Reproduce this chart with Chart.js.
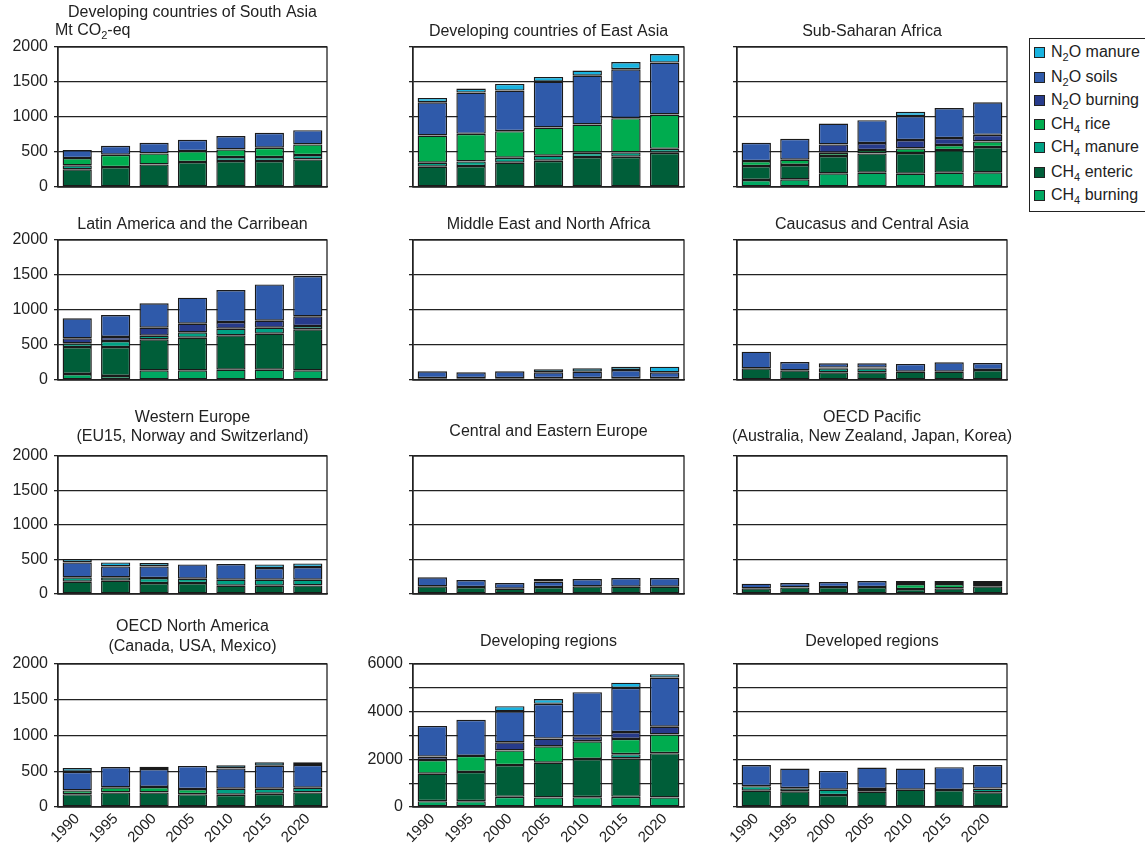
<!DOCTYPE html>
<html><head><meta charset="utf-8">
<script src="https://cdn.jsdelivr.net/npm/chart.js@4.4.1/dist/chart.umd.min.js"></script>
<style>
body{margin:0;background:#fff;width:1145px;height:844px;position:relative;overflow:hidden;font-family:"Liberation Sans",Arial,sans-serif;color:#222;}
canvas{position:absolute;}
#legend{position:absolute;left:1029px;top:38px;width:117px;height:174px;border:1px solid #222;box-sizing:border-box;background:#fff;}
.item{position:absolute;left:4px;height:20px;line-height:20px;font-size:16px;white-space:nowrap;display:flex;align-items:center;}
.sw{width:11px;height:11px;border:1px solid #222;box-sizing:border-box;margin-right:6px;flex:none;}
sub{font-size:11px;vertical-align:-4px;line-height:0;}
</style>
</head><body>
<div id="legend"></div>
<script>
// ---------- data ----------
const years = ['1990','1995','2000','2005','2010','2015','2020'];

const southAsia = {
  ch4Burning: [0,0,0,0,0,0,0],
  ch4Enteric: [252,285,323,356,371,371,394],
  ch4Manure:  [57,0,0,0,57,57,62],
  ch4Rice:    [104,176,157,157,109,133,152],
  n2oBurning: [0,0,0,0,0,0,0],
  n2oSoils:   [114,128,152,162,190,213,204],
  n2oManure:  [0,0,0,0,0,0,0]
};
const eastAsia = {
  ch4Burning: [0,0,0,0,0,0,0],
  ch4Enteric: [290,299,347,375,428,432,489],
  ch4Manure:  [57,67,71,72,61,62,57],
  ch4Rice:    [389,394,380,403,404,489,490],
  n2oBurning: [0,0,0,0,0,0,0],
  n2oSoils:   [475,589,580,656,698,699,741],
  n2oManure:  [62,57,95,66,72,104,123]
};
const subSaharanAfrica = {
  ch4Burning: [100,109,195,204,190,204,209],
  ch4Enteric: [199,205,247,276,295,323,361],
  ch4Manure:  [0,0,0,0,0,0,0],
  ch4Rice:    [71,76,47,47,66,72,81],
  n2oBurning: [0,0,119,100,119,100,95],
  n2oSoils:   [262,299,299,328,342,428,465],
  n2oManure:  [0,0,0,0,62,0,0]
};
const latinAmerica = {
  ch4Burning: [86,57,138,138,148,148,138],
  ch4Enteric: [385,414,443,467,490,514,586],
  ch4Manure:  [53,86,52,76,95,85,47],
  ch4Rice:    [0,0,0,0,0,0,0],
  n2oBurning: [71,57,114,123,95,100,138],
  n2oSoils:   [286,314,348,372,457,519,576],
  n2oManure:  [0,0,0,0,0,0,0]
};
const middleEast = {
  ch4Burning: [0,0,0,0,0,0,0],
  ch4Enteric: [25,25,25,25,25,25,25],
  ch4Manure:  [0,0,0,0,0,0,0],
  ch4Rice:    [0,0,0,0,0,0,0],
  n2oBurning: [0,0,0,0,0,0,0],
  n2oSoils:   [99,85,99,85,94,118,85],
  n2oManure:  [0,0,0,42,48,47,80]
};
const caucasus = {
  ch4Burning: [0,0,0,0,0,0,0],
  ch4Enteric: [167,138,110,110,119,119,143],
  ch4Manure:  [0,0,57,57,0,0,0],
  ch4Rice:    [0,0,0,0,0,0,0],
  n2oBurning: [0,0,10,10,0,0,0],
  n2oSoils:   [238,119,61,61,110,133,100],
  n2oManure:  [0,0,0,0,0,0,0]
};
const westernEurope = {
  ch4Burning: [0,0,0,0,0,0,0],
  ch4Enteric: [178,193,159,159,120,120,125],
  ch4Manure:  [63,48,72,63,87,87,82],
  ch4Rice:    [0,0,0,0,0,0,0],
  n2oBurning: [0,0,0,0,0,0,0],
  n2oSoils:   [217,159,169,207,227,169,183],
  n2oManure:  [48,58,48,0,0,53,53]
};
const easternEurope = {
  ch4Burning: [0,0,0,0,0,0,0],
  ch4Enteric: [111,101,77,101,111,106,106],
  ch4Manure:  [0,0,0,0,0,0,0],
  ch4Rice:    [0,0,0,0,0,0,0],
  n2oBurning: [0,0,0,0,0,0,0],
  n2oSoils:   [130,101,82,80,106,125,125],
  n2oManure:  [0,0,0,36,0,0,0]
};
const oecdPacific = {
  ch4Burning: [0,0,0,0,0,0,0],
  ch4Enteric: [82,96,101,101,72,82,111],
  ch4Manure:  [0,0,0,0,0,0,0],
  ch4Rice:    [0,0,0,0,73,63,34],
  n2oBurning: [0,0,0,0,0,0,0],
  n2oSoils:   [67,63,73,87,43,43,43],
  n2oManure:  [0,0,0,0,0,0,0]
};
const oecdNorthAmerica = {
  ch4Burning: [0,0,0,0,0,0,0],
  ch4Enteric: [180,204,204,180,171,185,204],
  ch4Manure:  [0,0,0,0,85,71,66],
  ch4Rice:    [52,71,76,71,0,0,0],
  n2oBurning: [0,0,0,0,0,0,0],
  n2oSoils:   [261,284,251,323,284,322,318],
  n2oManure:  [52,0,33,0,43,48,38]
};
const developingRegions = {
  ch4Burning: [243,243,429,400,414,429,400],
  ch4Enteric: [1157,1229,1329,1458,1601,1614,1858],
  ch4Manure:  [0,0,0,0,0,172,0],
  ch4Rice:    [572,671,614,686,743,643,786],
  n2oBurning: [143,0,343,328,214,286,328],
  n2oSoils:   [1285,1515,1300,1458,1844,1857,2058],
  n2oManure:  [0,0,215,200,0,215,143]
};
const developedRegions = {
  ch4Burning: [0,0,0,0,0,0,0],
  ch4Enteric: [686,657,500,643,729,714,614],
  ch4Manure:  [186,129,229,114,0,0,158],
  ch4Rice:    [0,0,0,0,0,0,0],
  n2oBurning: [0,0,0,0,0,0,0],
  n2oSoils:   [886,829,786,901,886,958,986],
  n2oManure:  [0,0,0,0,0,0,0]
};

// series in stacking order (bottom -> top)
const seriesKeys   = ['ch4Burning','ch4Enteric','ch4Manure','ch4Rice','n2oBurning','n2oSoils','n2oManure'];
const seriesLabels = ['CH₄ burning','CH₄ enteric','CH₄ manure','CH₄ rice','N₂O burning','N₂O soils','N₂O manure'];
const seriesLegendHtml = ['CH<sub>4</sub> burning','CH<sub>4</sub> enteric','CH<sub>4</sub> manure','CH<sub>4</sub> rice','N<sub>2</sub>O burning','N<sub>2</sub>O soils','N<sub>2</sub>O manure'];
const seriesColors = ['#00A862','#005E39','#00A184','#00AC4F','#273B8B','#2F5AAA','#19B3E0'];

// ---------- layout ----------
const colLeft  = [58, 413, 737];
const colRight = [327, 684, 1007];
const rowTop    = [47, 240, 456, 664];
const rowBottom = [187, 380, 594, 805];

const panels = [
  {data: southAsia,        row:0, col:0, title:['Developing countries of South Asia'], base:[17], unit:true},
  {data: eastAsia,         row:0, col:1, title:['Developing countries of East Asia'], base:[36]},
  {data: subSaharanAfrica, row:0, col:2, title:['Sub-Saharan Africa'], base:[36]},
  {data: latinAmerica,     row:1, col:0, title:['Latin America and the Carribean'], base:[229]},
  {data: middleEast,       row:1, col:1, title:['Middle East and North Africa'], base:[229]},
  {data: caucasus,         row:1, col:2, title:['Caucasus and Central Asia'], base:[229]},
  {data: westernEurope,    row:2, col:0, title:['Western Europe','(EU15, Norway and Switzerland)'], base:[422,441]},
  {data: easternEurope,    row:2, col:1, title:['Central and Eastern Europe'], base:[436]},
  {data: oecdPacific,      row:2, col:2, title:['OECD Pacific','(Australia, New Zealand, Japan, Korea)'], base:[422,441]},
  {data: oecdNorthAmerica, row:3, col:0, title:['OECD North America','(Canada, USA, Mexico)'], base:[631,651]},
  {data: developingRegions,row:3, col:1, title:['Developing regions'], base:[646], big:true},
  {data: developedRegions, row:3, col:2, title:['Developed regions'], base:[646], big:true}
];

const FONT = '"Liberation Sans", Arial, sans-serif';
Chart.defaults.font.family = FONT;
Chart.defaults.color = '#222';

const decor = {
  id: 'panelDecor',
  afterDraw(chart, args, o) {
    const ctx = chart.ctx, a = chart.chartArea;
    ctx.save();
    ctx.strokeStyle = '#222';
    ctx.lineWidth = 1.3;
    ctx.strokeRect(a.left, a.top, a.right - a.left, a.bottom - a.top);
    ctx.fillStyle = '#222';
    ctx.font = '16px ' + FONT;
    ctx.textAlign = 'center';
    ctx.textBaseline = 'alphabetic';
    const cx = (a.left + a.right) / 2;
    o.lines.forEach((t, i) => ctx.fillText(t, cx, o.baselines[i]));
    if (o.unit) {
      ctx.textAlign = 'left';
      let x = 55, y = 35;
      ctx.fillText('Mt CO', x, y); x += ctx.measureText('Mt CO').width;
      ctx.font = '11px ' + FONT;
      ctx.fillText('2', x, y + 4); x += ctx.measureText('2').width;
      ctx.font = '16px ' + FONT;
      ctx.fillText('-eq', x, y);
    }
    ctx.restore();
  }
};

panels.forEach(p => {
  const left = colLeft[p.col] - 58;
  const top = rowTop[p.row] - 47;
  const canvasExtra = p.row === 3 ? 844 - rowBottom[3] : 20;
  const axisHeight = p.row === 3 ? canvasExtra - 2 : canvasExtra;
  const w = colRight[p.col] - left + 6;
  const h = rowBottom[p.row] - top + canvasExtra;
  const cv = document.createElement('canvas');
  cv.width = w; cv.height = h;
  cv.style.left = left + 'px'; cv.style.top = top + 'px';
  cv.style.width = w + 'px'; cv.style.height = h + 'px';
  document.body.appendChild(cv);
  const showY = p.col === 0 || (!!p.big && p.col === 1);
  new Chart(cv, {
    type: 'bar',
    data: {
      labels: years,
      datasets: seriesKeys.map((k, i) => ({
        label: seriesLabels[i],
        data: p.data[k].map(v => v === 0 ? null : v),
        backgroundColor: seriesColors[i],
        borderColor: '#1a1a1a',
        borderWidth: 1.4,
        borderSkipped: false,
        barPercentage: 0.76,
        categoryPercentage: 1
      }))
    },
    options: {
      responsive: false,
      animation: false,
      events: [],
      layout: {padding: {top: 47, right: 6, left: 0, bottom: 0}},
      plugins: {
        legend: {display: false},
        tooltip: {enabled: false},
        title: {display: false},
        panelDecor: {lines: p.title, baselines: p.base.map(b => b - top), unit: !!p.unit}
      },
      scales: {
        x: {
          stacked: true,
          grid: {display: false, drawTicks: false},
          border: {display: true, color: '#222', width: 1.3},
          ticks: {display: p.row === 3, minRotation: 45, maxRotation: 45, autoSkip: false,
                  font: {size: 15}, color: '#222', padding: 3},
          afterFit: s => { s.height = axisHeight; }
        },
        y: {
          stacked: true,
          min: 0,
          max: p.big ? 6000 : 2000,
          ticks: {
            display: showY,
            stepSize: p.big ? 1000 : 500,
            font: {size: 16}, color: '#222', padding: 6,
            callback: v => (p.big && v % 2000 !== 0) ? '' : String(v)
          },
          grid: {color: '#222', lineWidth: 1.3, drawTicks: true, tickLength: 4, tickColor: '#222'},
          border: {display: true, color: '#222', width: 1.3},
          afterFit: s => { s.width = 58; }
        }
      }
    },
    plugins: [decor]
  });
});

// legend (top -> bottom = reverse of stacking order)
const legend = document.getElementById('legend');
const legendCenters = [52, 77, 100, 124, 147, 172, 195];
for (let j = 0; j < seriesKeys.length; j++) {
  const i = seriesKeys.length - 1 - j;
  const d = document.createElement('div');
  d.className = 'item';
  d.style.top = (legendCenters[j] - 38 - 1 - 10) + 'px';
  d.innerHTML = '<span class="sw" style="background:' + seriesColors[i] + '"></span><span>' + seriesLegendHtml[i] + '</span>';
  legend.appendChild(d);
}
</script>
</body></html>
